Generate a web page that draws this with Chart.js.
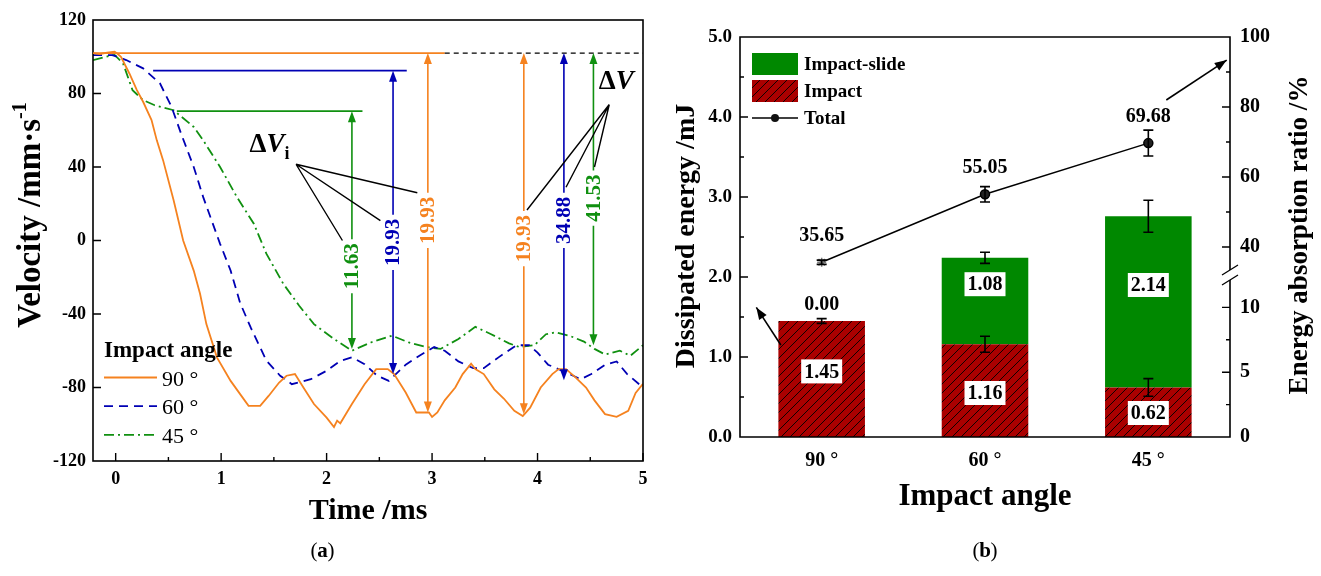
<!DOCTYPE html>
<html>
<head>
<meta charset="utf-8">
<script src="https://cdn.jsdelivr.net/npm/chart.js@4.4.0/dist/chart.umd.min.js"></script>
<style>
  body { margin: 0; background: #fff; }
  #wrap { position: relative; width: 1321px; height: 576px; }
  #left { position: absolute; left: 0; top: 0; }
  #right { position: absolute; left: 660px; top: 0; }
</style>
</head>
<body>
<div id="wrap">
  <canvas id="left" width="660" height="576"></canvas>
  <canvas id="right" width="661" height="576"></canvas>
</div>
<script>
'use strict';

const SERIF = '"Liberation Serif", "Times New Roman", serif';
const ORANGE = '#f5821f';
const BLUE = '#0000b4';
const GREEN = '#109010';
const BAR_GREEN = '#008800';
const BAR_RED = '#aa0000';

// ---- panel (a): velocity vs time ----
let time90 = [-0.215, -0.15, -0.08, -0.01, 0.02, 0.05, 0.13, 0.2, 0.26, 0.34, 0.39, 0.45, 0.55, 0.64, 0.74, 0.8, 0.86, 0.96, 1.09, 1.18, 1.26, 1.37, 1.45, 1.55, 1.62, 1.7, 1.78, 1.88, 2.0, 2.07, 2.1, 2.13, 2.24, 2.36, 2.47, 2.58, 2.64, 2.75, 2.85, 2.97, 3.0, 3.05, 3.12, 3.22, 3.29, 3.37, 3.41, 3.49, 3.59, 3.68, 3.78, 3.86, 3.93, 4.03, 4.14, 4.2, 4.27, 4.36, 4.46, 4.54, 4.64, 4.75, 4.86, 4.93, 5.0];
let vel90 = [102, 101.5, 102.3, 102.7, 101.5, 100, 90.9, 82, 75.5, 65.5, 54.5, 43.6, 21.8, 0, -16.4, -29, -45.5, -63.6, -76.4, -83.6, -90, -90, -84.6, -77.3, -73.6, -72.7, -80, -89, -96.4, -101.5, -98, -99.5, -89, -78.2, -70, -70, -72.7, -82.7, -93.6, -93.6, -96, -93.6, -87, -80, -72.7, -67, -70, -72.7, -81, -86, -92.7, -95.5, -91, -80, -72.7, -70, -70, -74.5, -80, -87, -94.5, -96, -92.7, -83, -78];

let time60 = [-0.215, -0.03, 0.1, 0.26, 0.42, 0.53, 0.62, 0.74, 0.83, 0.91, 0.99, 1.09, 1.18, 1.28, 1.43, 1.56, 1.67, 1.85, 2.0, 2.13, 2.24, 2.36, 2.48, 2.59, 2.75, 2.88, 3.02, 3.12, 3.25, 3.39, 3.49, 3.63, 3.8, 3.92, 4.0, 4.1, 4.24, 4.41, 4.51, 4.64, 4.75, 4.85, 5.0];
let vel60 = [100.9, 100.9, 98.2, 93.7, 85.5, 72.7, 58.2, 40, 23.6, 10.9, -1.8, -16.4, -34, -47.3, -65.5, -73.6, -78.2, -75.5, -70.9, -65.5, -63.6, -67.3, -73.6, -76.4, -67.6, -62.7, -58, -60, -65.8, -69.5, -69.5, -63.6, -57, -57, -61, -67.6, -71, -75.5, -72.7, -67.6, -65.8, -72.7, -80];

let time45 = [-0.215, -0.09, -0.01, 0.07, 0.16, 0.26, 0.37, 0.55, 0.74, 0.83, 0.99, 1.15, 1.31, 1.43, 1.59, 1.74, 1.88, 2.07, 2.24, 2.42, 2.62, 2.78, 2.95, 3.08, 3.25, 3.41, 3.56, 3.73, 3.83, 3.97, 4.08, 4.17, 4.31, 4.44, 4.54, 4.64, 4.78, 4.88, 5.0];
let vel45 = [98.2, 100, 101, 96.4, 81.8, 76.4, 73.6, 70.9, 61.8, 54.5, 40, 23.6, 9.1, -7.3, -23.6, -35.5, -45.5, -53.6, -60, -55.5, -51.8, -55.5, -58, -59, -53.6, -47, -51, -56, -58, -57, -51, -50, -52, -55, -59, -62, -60, -62.7, -57];

let angleNames = ['90 °', '60 °', '45 °'];

// level lines and delta-V arrows
let v0 = 102;
let levelValue = [102, 92.4, 70.4];
let levelStart = [-0.215, 0.355, 0.58];
let levelEnd = [3.12, 2.76, 2.34];
let arrowTime = [2.24, 2.63, 2.96, 3.87, 4.25, 4.53];
let arrowTop = [70.4, 92.4, 102, 102, 102, 102];
let arrowBottom = [-59, -72.7, -93.6, -94.5, -76, -57];
let arrowText = ['11.63', '19.93', '19.93', '19.93', '34.88', '41.53'];
let arrowMid = [-14, -1, 11, 1, 11, 23];
let arrowColor = [GREEN, BLUE, ORANGE, ORANGE, BLUE, GREEN];

// ---- panel (b): dissipated energy ----
let impactE = [1.45, 1.16, 0.62];
let impactErr = [0.03, 0.1, 0.11];
let slideE = [0, 1.08, 2.14];
let sumErr = [0, 0.07, 0.2];
let ratio = [35.65, 55.05, 69.68];
let ratioErr = [0.6, 2.2, 3.7];

function pts(t, v) {
  return t.map((x, i) => ({ x: x, y: v[i] }));
}

function head(ctx, x, y, ang, len, half) {
  len = len || 11; half = half || 4;
  let c = Math.cos(ang), s = Math.sin(ang);
  ctx.beginPath();
  ctx.moveTo(x, y);
  ctx.lineTo(x - len * c + half * s, y - len * s - half * c);
  ctx.lineTo(x - len * c - half * s, y - len * s + half * c);
  ctx.closePath();
  ctx.fill();
}

function rotText(ctx, txt, x, y, font) {
  ctx.save();
  ctx.translate(x, y);
  ctx.rotate(-Math.PI / 2);
  ctx.font = font;
  ctx.textAlign = 'center';
  ctx.textBaseline = 'middle';
  ctx.fillText(txt, 0, 0);
  ctx.restore();
}

function tickFont(size) {
  return { family: SERIF, size: size, weight: 'bold' };
}

// ticks pointing into the plot
function innerTicks(ctx, scale, values, len, a) {
  ctx.beginPath();
  values.forEach(v => {
    let p = scale.getPixelForValue(v);
    if (scale.isHorizontal()) {
      ctx.moveTo(p, a.bottom); ctx.lineTo(p, a.bottom - len);
    } else if (scale.position === 'left') {
      ctx.moveTo(a.left, p); ctx.lineTo(a.left + len, p);
    } else {
      ctx.moveTo(a.right, p); ctx.lineTo(a.right - len, p);
    }
  });
  ctx.stroke();
}

const panelA = {
  id: 'panelA',
  afterDraw(chart) {
    let { ctx, chartArea: a, scales: { x, y } } = chart;
    ctx.save();
    ctx.strokeStyle = '#000';
    ctx.lineWidth = 1.6;
    ctx.strokeRect(a.left, a.top, a.right - a.left, a.bottom - a.top);
    ctx.lineWidth = 1.4;
    innerTicks(ctx, x, [0, 1, 2, 3, 4, 5], 8, a);
    innerTicks(ctx, x, [0.5, 1.5, 2.5, 3.5, 4.5], 4, a);
    innerTicks(ctx, y, [-80, -40, 0, 40, 80], 8, a);

    // level lines
    let lc = [ORANGE, BLUE, GREEN];
    ctx.lineWidth = 1.8;
    levelValue.forEach((v, i) => {
      ctx.strokeStyle = lc[i];
      ctx.beginPath();
      ctx.moveTo(x.getPixelForValue(levelStart[i]), y.getPixelForValue(v));
      ctx.lineTo(x.getPixelForValue(levelEnd[i]), y.getPixelForValue(v));
      ctx.stroke();
    });
    ctx.strokeStyle = '#000';
    ctx.lineWidth = 1.4;
    ctx.setLineDash([5, 4]);
    ctx.beginPath();
    ctx.moveTo(x.getPixelForValue(levelEnd[0]), y.getPixelForValue(v0));
    ctx.lineTo(a.right, y.getPixelForValue(v0));
    ctx.stroke();
    ctx.setLineDash([]);

    // delta-V arrows
    let f = 'bold 21px ' + SERIF;
    ctx.font = f;
    arrowTime.forEach((t, i) => {
      let px = x.getPixelForValue(t);
      let top = y.getPixelForValue(arrowTop[i]);
      let bot = y.getPixelForValue(arrowBottom[i]);
      let mid = y.getPixelForValue(arrowMid[i]);
      let w = ctx.measureText(arrowText[i]).width;
      ctx.strokeStyle = ctx.fillStyle = arrowColor[i];
      ctx.lineWidth = 1.6;
      ctx.beginPath();
      ctx.moveTo(px, top + 6); ctx.lineTo(px, mid - w / 2 - 4);
      ctx.moveTo(px, mid + w / 2 + 4); ctx.lineTo(px, bot - 6);
      ctx.stroke();
      head(ctx, px, top, -Math.PI / 2);
      head(ctx, px, bot, Math.PI / 2);
      rotText(ctx, arrowText[i], px + 1, mid, f);
    });

    // leader lines
    ctx.strokeStyle = '#000';
    ctx.lineWidth = 1.4;
    let leader = (from, ends) => {
      ctx.beginPath();
      ends.forEach(e => {
        ctx.moveTo(x.getPixelForValue(from[0]), y.getPixelForValue(from[1]));
        ctx.lineTo(x.getPixelForValue(e[0]), y.getPixelForValue(e[1]));
      });
      ctx.stroke();
    };
    leader([1.71, 41.5], [[2.15, 0], [2.51, 10.8], [2.86, 26]]);
    leader([4.68, 74], [[3.9, 16.6], [4.27, 29], [4.54, 40]]);

    // delta V labels
    ctx.fillStyle = '#000';
    ctx.textBaseline = 'alphabetic';
    ctx.textAlign = 'left';
    let dv = (t, v, sub) => {
      let px = x.getPixelForValue(t), py = y.getPixelForValue(v);
      ctx.font = 'bold 27px ' + SERIF;
      ctx.fillText('\u0394', px, py);
      px += ctx.measureText('\u0394').width;
      ctx.font = 'italic bold 27px ' + SERIF;
      ctx.fillText('V', px, py);
      px += ctx.measureText('V').width;
      if (sub) {
        ctx.font = 'bold 18px ' + SERIF;
        ctx.fillText(sub, px, py + 7);
      }
    };
    dv(1.27, 48.2, 'i');
    dv(4.58, 82.6, '');

    // legend
    ctx.font = 'bold 23px ' + SERIF;
    ctx.fillText('Impact angle', 104, 357);
    let dash = [[], [9, 6], [10, 4, 2, 4]];
    let col = [ORANGE, BLUE, GREEN];
    angleNames.forEach((n, i) => {
      let ly = 377.5 + i * 28.7;
      ctx.strokeStyle = col[i];
      ctx.lineWidth = 1.8;
      ctx.setLineDash(dash[i]);
      ctx.beginPath(); ctx.moveTo(104, ly); ctx.lineTo(157, ly); ctx.stroke();
      ctx.setLineDash([]);
      ctx.fillStyle = '#000';
      ctx.font = '22px ' + SERIF;
      ctx.fillText(n, 162, ly + 8);
    });

    // y title with superscript
    ctx.save();
    ctx.translate(40, 215);
    ctx.rotate(-Math.PI / 2);
    ctx.font = 'bold 33px ' + SERIF;
    let main = 'Velocity /mm\u00b7s';
    let mw = ctx.measureText(main).width;
    ctx.font = 'bold 20px ' + SERIF;
    let sw = ctx.measureText('-1').width;
    let sx = -(mw + sw) / 2;
    ctx.font = 'bold 33px ' + SERIF;
    ctx.fillText(main, sx, 0);
    ctx.font = 'bold 20px ' + SERIF;
    ctx.fillText('-1', sx + mw, -14);
    ctx.restore();

    // panel tag
    ctx.textAlign = 'center';
    ctx.font = '21px ' + SERIF;
    ctx.fillText('(', 314, 557);
    ctx.fillText(')', 331, 557);
    ctx.font = 'bold 21px ' + SERIF;
    ctx.fillText('a', 322.5, 557);
    ctx.restore();
  }
};

let leftChart = new Chart(document.getElementById('left'), {
  type: 'line',
  data: {
    datasets: [
      { label: '90 °', data: pts(time90, vel90), borderColor: ORANGE, borderWidth: 1.8, pointRadius: 0, tension: 0 },
      { label: '60 °', data: pts(time60, vel60), borderColor: BLUE, borderWidth: 1.8, pointRadius: 0, tension: 0, borderDash: [9, 6] },
      { label: '45 °', data: pts(time45, vel45), borderColor: GREEN, borderWidth: 1.8, pointRadius: 0, tension: 0, borderDash: [10, 4, 2, 4] }
    ]
  },
  options: {
    responsive: false,
    animation: false,
    devicePixelRatio: 1,
    layout: { padding: { left: 0, top: 20, right: 17, bottom: 43 } },
    plugins: { legend: { display: false }, tooltip: { enabled: false } },
    scales: {
      x: {
        type: 'linear', min: -0.215, max: 5,
        grid: { display: false, drawTicks: false },
        border: { display: false },
        ticks: { stepSize: 1, includeBounds: false, font: tickFont(18), color: '#000', padding: 8, maxRotation: 0 },
        title: { display: true, text: 'Time /ms', font: tickFont(30), color: '#000' },
        afterFit: s => { s.height = 72; }
      },
      y: {
        min: -120, max: 120,
        grid: { display: false, drawTicks: false },
        border: { display: false },
        ticks: { stepSize: 40, font: tickFont(18), color: '#000', padding: 7 },
        afterFit: s => { s.width = 93; }
      }
    }
  },
  plugins: [panelA]
});

// hatched fill for the impact part
function hatchFill() {
  let c = document.createElement('canvas');
  c.width = c.height = 9;
  let g = c.getContext('2d');
  g.fillStyle = BAR_RED;
  g.fillRect(0, 0, 9, 9);
  g.strokeStyle = '#000';
  g.lineWidth = 0.9;
  g.beginPath();
  g.moveTo(0, 9); g.lineTo(9, 0);
  g.moveTo(-1, 1); g.lineTo(1, -1);
  g.moveTo(8, 10); g.lineTo(10, 8);
  g.stroke();
  return document.getElementById('right').getContext('2d').createPattern(c, 'repeat');
}
let hatch = hatchFill();

const panelB = {
  id: 'panelB',
  afterDraw(chart) {
    let { ctx, chartArea: a, scales: { x, y, yUp, yLow } } = chart;
    ctx.save();
    ctx.strokeStyle = '#000';
    ctx.lineWidth = 1.6;
    let yb = yLow.top;
    ctx.beginPath();
    ctx.moveTo(a.right, yb - 5); ctx.lineTo(a.right, a.top);
    ctx.lineTo(a.left, a.top); ctx.lineTo(a.left, a.bottom);
    ctx.lineTo(a.right, a.bottom); ctx.lineTo(a.right, yb + 5);
    ctx.stroke();
    // axis break
    ctx.lineWidth = 1.3;
    ctx.beginPath();
    [-5, 5].forEach(d => {
      ctx.moveTo(a.right - 8, yb + d + 5);
      ctx.lineTo(a.right + 8, yb + d - 5);
    });
    ctx.stroke();

    ctx.lineWidth = 1.4;
    innerTicks(ctx, y, [1, 2, 3, 4], 8, a);
    innerTicks(ctx, y, [0.5, 1.5, 2.5, 3.5, 4.5], 4, a);
    innerTicks(ctx, yUp, [40, 60, 80], 8, a);
    innerTicks(ctx, yUp, [50, 70, 90], 4, a);
    innerTicks(ctx, yLow, [5, 10], 8, a);
    innerTicks(ctx, yLow, [2.5, 7.5], 4, a);

    // error bars
    let ebar = (px, lo, hi) => {
      ctx.beginPath();
      ctx.moveTo(px, lo); ctx.lineTo(px, hi);
      ctx.moveTo(px - 5, lo); ctx.lineTo(px + 5, lo);
      ctx.moveTo(px - 5, hi); ctx.lineTo(px + 5, hi);
      ctx.stroke();
    };
    ctx.lineWidth = 1.6;
    impactE.forEach((v, i) => {
      let px = x.getPixelForValue(i);
      ebar(px, y.getPixelForValue(v - impactErr[i]), y.getPixelForValue(v + impactErr[i]));
      if (sumErr[i] > 0) {
        let s = v + slideE[i];
        ebar(px, y.getPixelForValue(s - sumErr[i]), y.getPixelForValue(s + sumErr[i]));
      }
      ebar(px, yUp.getPixelForValue(ratio[i] - ratioErr[i]), yUp.getPixelForValue(ratio[i] + ratioErr[i]));
    });

    // value labels in white boxes
    let boxLabel = (txt, px, py) => {
      ctx.font = 'bold 20px ' + SERIF;
      let w = ctx.measureText(txt).width;
      ctx.fillStyle = '#fff';
      ctx.fillRect(px - w / 2 - 3, py - 12, w + 6, 24);
      ctx.fillStyle = '#000';
      ctx.textAlign = 'center';
      ctx.textBaseline = 'middle';
      ctx.fillText(txt, px, py + 1);
    };
    let impLabelY = [0.82, 0.55, 0.3];
    let slideLabelY = [null, 1.91, 1.9];
    impactE.forEach((v, i) => {
      let px = x.getPixelForValue(i);
      boxLabel(v.toFixed(2), px, y.getPixelForValue(impLabelY[i]));
      if (slideE[i] > 0) boxLabel(slideE[i].toFixed(2), px, y.getPixelForValue(slideLabelY[i]));
    });
    ctx.font = 'bold 20px ' + SERIF;
    ctx.textAlign = 'center';
    ctx.textBaseline = 'middle';
    ctx.fillText(slideE[0].toFixed(2), x.getPixelForValue(0), y.getPixelForValue(1.65));
    ratio.forEach((r, i) => {
      ctx.fillText(r.toFixed(2), x.getPixelForValue(i), yUp.getPixelForValue(r) - 26);
    });

    // pointer arrows
    ctx.strokeStyle = ctx.fillStyle = '#000';
    ctx.lineWidth = 1.6;
    let pointer = (x0, y0, x1, y1) => {
      ctx.beginPath(); ctx.moveTo(x0, y0); ctx.lineTo(x1, y1); ctx.stroke();
      head(ctx, x1, y1, Math.atan2(y1 - y0, x1 - x0), 12, 4.5);
    };
    pointer(x.getPixelForValue(-0.25), y.getPixelForValue(1.15), x.getPixelForValue(-0.4), y.getPixelForValue(1.62));
    pointer(x.getPixelForValue(2.11), yUp.getPixelForValue(82), x.getPixelForValue(2.48), yUp.getPixelForValue(93.4));

    // legend
    let lx = a.left + 12, ty = a.top;
    ctx.fillStyle = BAR_GREEN;
    ctx.fillRect(lx, ty + 16, 46, 22);
    ctx.fillStyle = hatch;
    ctx.fillRect(lx, ty + 43, 46, 22);
    ctx.strokeStyle = '#000';
    ctx.lineWidth = 1.5;
    ctx.beginPath(); ctx.moveTo(lx, ty + 81); ctx.lineTo(lx + 46, ty + 81); ctx.stroke();
    ctx.fillStyle = '#111';
    ctx.beginPath(); ctx.arc(lx + 23, ty + 81, 4, 0, Math.PI * 2); ctx.fill();
    ctx.fillStyle = '#000';
    ctx.textAlign = 'left';
    ctx.font = 'bold 19px ' + SERIF;
    ctx.fillText('Impact-slide', lx + 52, ty + 28);
    ctx.fillText('Impact', lx + 52, ty + 55);
    ctx.fillText('Total', lx + 52, ty + 82);

    // axis titles
    ctx.fillStyle = '#000';
    rotText(ctx, 'Dissipated energy /mJ', 27, 236, 'bold 28px ' + SERIF);
    rotText(ctx, 'Energy absorption ratio /%', 640, 235, 'bold 27px ' + SERIF);

    ctx.textAlign = 'center';
    ctx.textBaseline = 'alphabetic';
    ctx.font = '21px ' + SERIF;
    ctx.fillText('(', 316, 557);
    ctx.fillText(')', 334, 557);
    ctx.font = 'bold 21px ' + SERIF;
    ctx.fillText('b', 325, 557);
    ctx.restore();
  }
};

let rightChart = new Chart(document.getElementById('right'), {
  type: 'bar',
  data: {
    labels: angleNames,
    datasets: [
      { label: 'Impact', data: impactE, backgroundColor: hatch, stack: 'e', barPercentage: 0.53, categoryPercentage: 1, order: 1 },
      { label: 'Impact-slide', data: slideE, backgroundColor: BAR_GREEN, stack: 'e', barPercentage: 0.53, categoryPercentage: 1, order: 1 },
      {
        type: 'line', label: 'Total', data: ratio, yAxisID: 'yUp', order: 0,
        borderColor: '#000', borderWidth: 1.5, tension: 0,
        pointStyle: ['star', 'circle', 'circle'], pointRadius: 4.5,
        pointBackgroundColor: ['#999', '#222', '#222'], pointBorderColor: ['#777', '#000', '#000']
      }
    ]
  },
  options: {
    responsive: false,
    animation: false,
    devicePixelRatio: 1,
    layout: { padding: { left: 0, top: 37, right: 46, bottom: 56 } },
    plugins: { legend: { display: false }, tooltip: { enabled: false } },
    scales: {
      x: {
        stacked: true, offset: true,
        grid: { display: false, drawTicks: false },
        border: { display: false },
        ticks: { font: tickFont(20), color: '#000', padding: 12 },
        title: { display: true, text: 'Impact angle', font: tickFont(31), color: '#000' },
        afterFit: s => { s.height = 83; }
      },
      y: {
        stacked: true, min: 0, max: 5,
        grid: { display: false, drawTicks: false },
        border: { display: false },
        ticks: { stepSize: 1, font: tickFont(19), color: '#000', padding: 8, callback: v => v.toFixed(1) },
        afterFit: s => { s.width = 80; }
      },
      yUp: {
        position: 'right', stack: 'ratio', stackWeight: 238,
        min: 32, max: 100,
        grid: { display: false, drawTicks: false },
        border: { display: false },
        ticks: { stepSize: 20, includeBounds: false, font: tickFont(20), color: '#000', padding: 10 },
        afterFit: s => { s.width = 45; }
      },
      yLow: {
        position: 'right', stack: 'ratio', stackWeight: 162,
        min: 0, max: 12.5,
        grid: { display: false, drawTicks: false },
        border: { display: false },
        ticks: { stepSize: 5, includeBounds: false, font: tickFont(20), color: '#000', padding: 10 },
        afterFit: s => { s.width = 45; }
      }
    }
  },
  plugins: [panelB]
});
</script>
</body>
</html>
